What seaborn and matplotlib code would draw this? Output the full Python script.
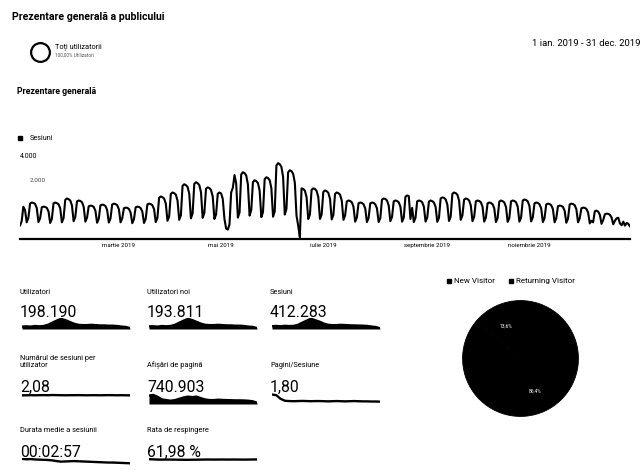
"""
Recreation of a scanned Google Analytics audience overview
("Prezentare generală a publicului") for 2019, drawn with seaborn.
Everything is black on white because the source is a b/w scan.
"""
import numpy as np
import pandas as pd
import matplotlib
matplotlib.use("Agg")
import matplotlib.pyplot as plt
import seaborn as sns

W, H = 641, 473

# Daily sessions 2019, one row per week (Jan 1 is a Tuesday)
sessions = [
    600, 800, 1450, 1300, 750, 950,
    1590, 1640, 1620, 1580, 1390, 760, 930,
    1420, 1455, 1440, 1400, 1240, 720, 900,
    1600, 1640, 1610, 1560, 1380, 750, 940,
    1760, 1820, 1790, 1730, 1510, 800, 990,
    1690, 1730, 1710, 1650, 1450, 780, 960,
    1470, 1500, 1490, 1440, 1270, 730, 910,
    1510, 1545, 1530, 1480, 1300, 740, 920,
    1550, 1590, 1570, 1520, 1340, 750, 930,
    1380, 1410, 1400, 1350, 1190, 710, 890,
    1420, 1455, 1440, 1390, 1230, 720, 900,
    1550, 1590, 1570, 1520, 1340, 760, 950,
    1850, 1910, 1880, 1820, 1590, 820, 1010,
    2030, 2090, 2060, 1990, 1730, 860, 1060,
    2390, 2460, 2420, 2340, 2030, 930, 1150,
    2480, 2550, 2510, 2420, 2100, 950, 1170,
    2260, 2320, 2290, 2200, 1910, 900, 1100,
    2030, 2090, 2050, 1800, 900, 470, 420,
    650, 2090, 2300, 2870, 2500, 960, 1190,
    2900, 3000, 2960, 2850, 2450, 1050, 1300,
    2560, 2640, 2600, 2510, 2170, 980, 1210,
    2690, 2775, 2740, 2640, 2280, 1000, 1240,
    3300, 3410, 3360, 3240, 2790, 1100, 1360,
    3000, 3090, 3050, 2930, 2530, 1050, 600,
    80, 2275, 2250, 2170, 1880, 900, 1100,
    2210, 2275, 2250, 2160, 1880, 900, 1100,
    2120, 2180, 2150, 2070, 1800, 880, 1080,
    2030, 2090, 2060, 1990, 1730, 860, 1060,
    1690, 1730, 1710, 1650, 1450, 780, 960,
    1600, 1640, 1620, 1560, 1380, 760, 940,
    1600, 1640, 1620, 1560, 1380, 760, 940,
    1770, 1820, 1800, 1730, 1510, 800, 990,
    1690, 1730, 1710, 1650, 1450, 780, 960,
    1900, 1955, 1930, 900, 1400, 760, 950,
    1690, 1730, 1710, 1650, 1450, 780, 960,
    1680, 1730, 1700, 1640, 1440, 770, 950,
    1820, 1870, 1850, 1780, 1550, 810, 1000,
    2030, 2090, 2060, 1990, 1730, 860, 1060,
    1770, 1820, 1800, 1730, 1510, 800, 990,
    1690, 1730, 1710, 1650, 1450, 780, 960,
    1600, 1640, 1620, 1560, 1380, 760, 940,
    1680, 1730, 1700, 1640, 1440, 770, 950,
    1690, 1730, 1710, 1650, 1450, 780, 960,
    1730, 1775, 1750, 1690, 1480, 790, 970,
    1600, 1640, 1620, 1560, 1380, 760, 940,
    1550, 1590, 1570, 1520, 1340, 750, 930,
    1470, 1500, 1490, 1440, 1270, 730, 910,
    1550, 1590, 1570, 1520, 1340, 750, 930,
    1380, 1410, 1400, 1350, 1190, 700, 820,
    750, 1250, 1275, 1230, 1090, 680, 850,
    1110, 1140, 1130, 1090, 970, 660, 820,
    930, 955, 700, 620, 780, 600, 720,
    680, 560,
]

month_ticks = ["2019-03-01", "2019-05-01", "2019-07-01", "2019-09-01", "2019-11-01"]
month_labels = ["martie 2019", "mai 2019", "iulie 2019", "septembrie 2019", "noiembrie 2019"]

metric_names = [
    "Utilizatori", "Utilizatori noi", "Sesiuni",
    "Numărul de sesiuni per\nutilizator", "Afișări de pagină", "Pagini/Sesiune",
    "Durata medie a sesiunii", "Rata de respingere",
]
metric_values = ["198.190", "193.811", "412.283", "2,08", "740.903", "1,80",
                 "00:02:57", "61,98 %"]

# sparklines, roughly bi-weekly values
spark_users = [3.0, 3.1, 3.0, 3.2, 3.1, 3.2, 3.6, 4.3, 5.0, 5.6, 5.2, 4.6, 4.0,
               3.6, 3.5, 3.5, 3.6, 3.5, 3.4, 3.4, 3.3, 3.3, 3.2, 3.0, 2.9, 2.5]
spark_new_users = [3.0, 3.0, 2.9, 3.1, 3.0, 3.1, 3.5, 4.2, 4.9, 5.5, 5.1, 4.5, 3.9,
                   3.5, 3.4, 3.4, 3.5, 3.4, 3.3, 3.3, 3.2, 3.2, 3.1, 2.9, 2.8, 2.4]
spark_sessions = [7.5, 7.7, 7.4, 7.8, 7.6, 7.7, 8.6, 10.3, 12.0, 13.6, 12.4, 11.2, 9.6,
                  8.6, 8.3, 8.4, 8.6, 8.4, 8.2, 8.1, 8.0, 7.9, 7.7, 7.2, 6.8, 5.8]
spark_sess_per_user = [2.06, 2.07, 2.08, 2.07, 2.08, 2.09, 2.08, 2.10, 2.09, 2.08, 2.07,
                       2.08, 2.08, 2.09, 2.08, 2.07, 2.08, 2.08, 2.07, 2.08, 2.09, 2.08,
                       2.07, 2.08, 2.07, 2.06]
spark_pageviews = [16, 16.5, 15, 13, 12.5, 12, 12.5, 13.5, 14.5, 15.2, 14.8, 15.2, 14,
                   13, 12.5, 12.5, 12.8, 12.6, 12.5, 12.4, 12.3, 12.3, 12.2, 12.0, 11.6, 10.5]
spark_pages_per_sess = [2.25, 2.2, 1.95, 1.82, 1.8, 1.79, 1.80, 1.81, 1.80, 1.79, 1.80,
                        1.80, 1.79, 1.78, 1.79, 1.80, 1.79, 1.78, 1.79, 1.80, 1.79, 1.78,
                        1.78, 1.77, 1.77, 1.76]
spark_duration = [190, 188, 189, 187, 186, 185, 184, 182, 178, 175, 176, 177, 178,
                  177, 176, 175, 174, 173, 172, 171, 170, 170, 169, 168, 167, 166]
spark_bounce = [63.5, 62.8, 62.0, 61.9, 62.1, 62.0, 61.8, 61.5, 61.2, 61.0, 61.4, 61.6,
                61.9, 62.1, 62.2, 62.0, 62.1, 62.3, 62.0, 62.1, 62.2, 62.0, 61.9, 62.1,
                62.3, 62.5]

visitor_types = ["New Visitor", "Returning Visitor"]
visitor_share = [86.4, 13.6]


def px_axes(fig, x0, y0, x1, y1):
    """Add an axes given a pixel box (origin top-left)."""
    return fig.add_axes([x0 / W, 1 - y1 / H, (x1 - x0) / W, (y1 - y0) / H])


sns.set_theme(style="white")
plt.rcParams["font.family"] = ["Roboto", "DejaVu Sans"]

fig = plt.figure(figsize=(W / 100, H / 100), dpi=100)
fig.patch.set_facecolor("white")

# Overlay for free text, in pixel coordinates
ov = fig.add_axes([0, 0, 1, 1])
ov.set_xlim(0, W)
ov.set_ylim(H, 0)
ov.axis("off")

ov.text(12, 17, "Prezentare generală a publicului", fontsize=7.6, fontweight="bold",
        va="center", ha="left", color="black")
ov.plot([40], [52], marker="o", ms=13.5, mfc="white", mec="black", mew=1.6)
ov.text(55, 47, "Toți utilizatorii", fontsize=5.3, va="center", color="black")
ov.text(55, 55.5, "100,00% Utilizatori", fontsize=3.4, va="center", color="#555555")
ov.text(640, 44, "1 ian. 2019 - 31 dec. 2019", fontsize=6.8, ha="right", va="center",
        color="black")
ov.text(17, 91, "Prezentare generală", fontsize=6.3, fontweight="bold", va="center",
        color="black")
ov.plot([20], [138], marker="s", ms=2.8, color="black")
ov.text(30, 138, "Sesiuni", fontsize=5.2, va="center", color="black")

# Main sessions line chart
dates = pd.date_range("2019-01-01", "2019-12-31", freq="D")
df = pd.DataFrame({"date": dates, "sessions": sessions})
ax = px_axes(fig, 20, 150, 630, 239)
sns.lineplot(data=df, x="date", y="sessions", ax=ax, color="black", linewidth=1.5)
ax.set_xlim(dates[0], dates[-1])
ax.set_ylim(0, 4000)
ax.set_facecolor("none")
for side in ["top", "right", "left"]:
    ax.spines[side].set_visible(False)
ax.spines["bottom"].set_color("black")
ax.spines["bottom"].set_linewidth(1.6)
ax.set_yticks([])
ax.set_xticks(pd.to_datetime(month_ticks))
ax.set_xticklabels(month_labels, fontsize=4.4, color="black")
ax.tick_params(axis="x", length=0, pad=3)
ax.set_xlabel("")
ax.set_ylabel("")
ax.text(0.0, 0.97, "4.000", transform=ax.transAxes, fontsize=5, va="top",
        color="black")
ax.text(pd.Timestamp("2019-01-07"), 2500, "2.000", fontsize=4.6, va="bottom",
        color="#444444")

# Metric cells
sparks = [spark_users, spark_new_users, spark_sessions, spark_sess_per_user,
          spark_pageviews, spark_pages_per_sess, spark_duration, spark_bounce]
spark_fill = [True, True, True, False, True, False, False, False]
spark_ylim = [(2.2, 5.9), (2.1, 5.8), (5.2, 14.2), (1.0, 2.35), (9.5, 18.0),
              (1.6, 2.35), (140, 195), (30, 68)]
col_x = [20, 147, 270]
label_base = [294, 367, 432]
value_base = [317, 392, 457]
spark_box = [(318, 329), (393, 404), (458, 468)]

for i, (name, value, vals) in enumerate(zip(metric_names, metric_values, sparks)):
    r, c = divmod(i, 3)
    x0 = col_x[c]
    ov.text(x0, label_base[r], name, fontsize=5.3, va="baseline", color="black",
            linespacing=1.1)
    ov.text(x0, value_base[r], value, fontsize=11.3, va="baseline", color="black")
    sx = px_axes(fig, x0 + 2, spark_box[r][0], x0 + 110, spark_box[r][1])
    xs = np.arange(len(vals))
    lo, hi = spark_ylim[i]
    if spark_fill[i]:
        sx.fill_between(xs, lo, vals, color="black", linewidth=0)
    sns.lineplot(x=xs, y=vals, ax=sx, color="black", linewidth=1.7)
    sx.set_xlim(0, len(vals) - 1)
    sx.set_ylim(lo, hi)
    sx.axis("off")

# Visitor pie
pa = px_axes(fig, 462, 299, 579, 418)
pa.pie(visitor_share, colors=["black", "black"], startangle=90, counterclock=False,
       wedgeprops=dict(linewidth=0.6, edgecolor="black"),
       autopct=lambda p: f"{p:.1f}%".replace(".", ","),
       pctdistance=0.62, textprops=dict(color="white", fontsize=3.5))
pa.set_xlim(-1.01, 1.01)
pa.set_ylim(-1.01, 1.01)
pa.set_aspect("equal")

leg_x = [449, 511]
for lx, lab in zip(leg_x, visitor_types):
    ov.plot([lx], [281], marker="s", ms=2.8, color="black")
    ov.text(lx + 4.5, 281, lab, fontsize=5.8, va="center", color="black")

fig.savefig("out.png", dpi=100, facecolor="white")
